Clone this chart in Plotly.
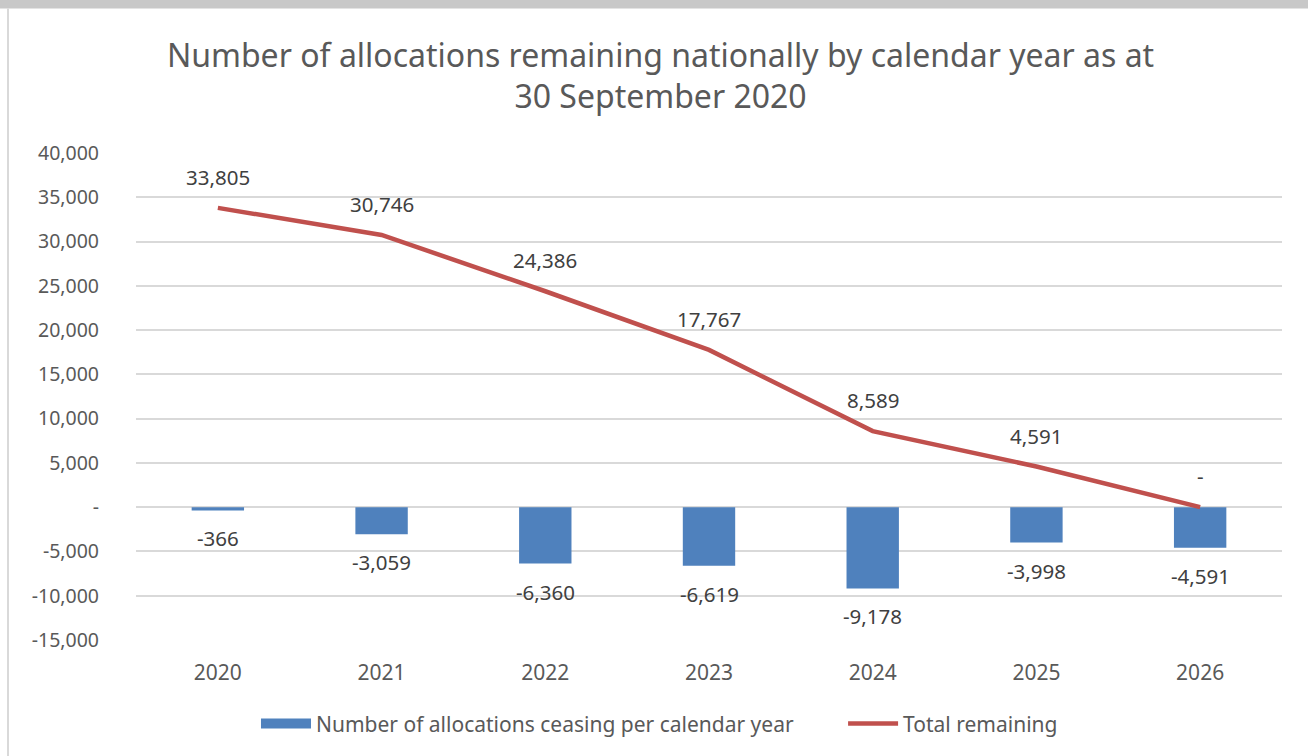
import plotly.graph_objects as go

years = ["2020", "2021", "2022", "2023", "2024", "2025", "2026"]
ceasing = [-366, -3059, -6360, -6619, -9178, -3998, -4591]
remaining = [33805, 30746, 24386, 17767, 8589, 4591, 0]
ceasing_labels = ["-366", "-3,059", "-6,360", "-6,619", "-9,178", "-3,998", "-4,591"]
remaining_labels = ["33,805", "30,746", "24,386", "17,767", "8,589", "4,591", "-"]
tick_vals = [40000, 35000, 30000, 25000, 20000, 15000, 10000, 5000, 0, -5000, -10000, -15000]
tick_text = ["40,000", "35,000", "30,000", "25,000", "20,000", "15,000", "10,000", "5,000", "-",
             "-5,000", "-10,000", "-15,000"]

FONT = "Noto Sans"
GREY = "#595959"
LABEL = "#404040"
BLUE = "#4F81BD"
RED = "#C0504D"

fig = go.Figure()
fig.add_trace(go.Bar(
    x=years, y=ceasing, name="Number of allocations ceasing per calendar year",
    marker=dict(color=BLUE, line=dict(width=0)), width=0.32, showlegend=False,
))
# legend entry drawn as a wide block, like the reference
fig.add_trace(go.Scatter(
    x=[None], y=[None], mode="lines", name="Number of allocations ceasing per calendar year",
    line=dict(color=BLUE, width=14), hoverinfo="skip", legend="legend",
))
fig.add_trace(go.Scatter(
    x=years, y=remaining, name="Total remaining", mode="lines",
    line=dict(color=RED, width=4.5), legend="legend2",
))

annotations = []
for i, (v, t) in enumerate(zip(remaining, remaining_labels)):
    annotations.append(dict(x=i, y=v, xref="x", yref="y", text=t, showarrow=False,
                            yshift=31, font=dict(family=FONT, size=20.5, color=LABEL)))
for i, (v, t) in enumerate(zip(ceasing, ceasing_labels)):
    annotations.append(dict(x=i, y=v, xref="x", yref="y", text=t, showarrow=False,
                            yshift=-28, font=dict(family=FONT, size=20.5, color=LABEL)))

legend_style = dict(orientation="h", xanchor="left", y=-0.172, yanchor="middle",
                    font=dict(family=FONT, size=21, color=GREY), itemwidth=50,
                    bgcolor="rgba(0,0,0,0)")

fig.update_layout(
    width=1308, height=756,
    margin=dict(l=136, r=26, t=153, b=114),
    paper_bgcolor="white", plot_bgcolor="white",
    font=dict(family=FONT, color=GREY),
    title=dict(text="Number of allocations remaining nationally by calendar year as at<br>30 September 2020",
               x=0.505, xanchor="center", y=0.912, yanchor="middle",
               font=dict(family=FONT, size=32, color=GREY)),
    showlegend=True,
    legend=dict(x=0.1047, **legend_style),
    legend2=dict(x=0.617, **legend_style),
    xaxis=dict(type="category", showgrid=False, showline=False, ticks="",
               tickfont=dict(family=FONT, size=21, color=GREY), ticklabelstandoff=18),
    yaxis=dict(range=[-15000, 40000], tickvals=tick_vals, ticktext=tick_text,
               showgrid=True, gridcolor="#D9D9D9", gridwidth=2, zeroline=False,
               showline=False, ticks="", ticklabelstandoff=36,
               tickfont=dict(family=FONT, size=19.5, color=GREY)),
    annotations=annotations,
    shapes=[
        dict(type="rect", xref="paper", yref="paper", x0=-0.2, x1=1.1, y0=1.2965, y1=1.32,
             fillcolor="#C8C8C8", line=dict(width=0), layer="below"),
        dict(type="line", xref="paper", yref="paper", x0=-0.1117, x1=-0.1117, y0=-0.25, y1=1.2965,
             line=dict(color="#D9D9D9", width=2)),
    ],
)

fig.write_html("out.html", config={"displayModeBar": False},
               post_script="document.body.style.margin='0';")
